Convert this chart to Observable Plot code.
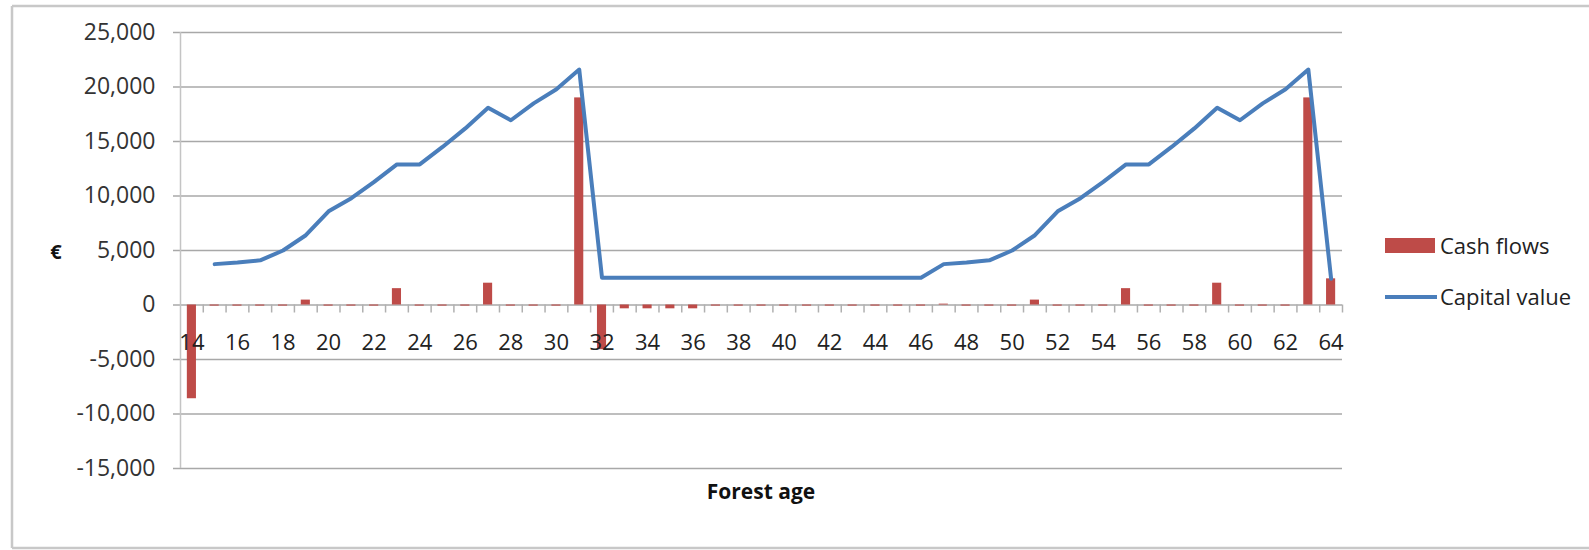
<!DOCTYPE html>
<html>
<head>
<meta charset="utf-8">
<script src="https://cdn.jsdelivr.net/npm/d3@7"></script>
<script src="https://cdn.jsdelivr.net/npm/@observablehq/plot@0.6"></script>
<style>
  html, body { margin: 0; padding: 0; background: #fff; overflow: hidden; }
  #chart { position: relative; width: 1589px; height: 550px; overflow: hidden; }
</style>
</head>
<body>
<div id="chart"></div>
<script>
// Forest age categories
const ages = [14,15,16,17,18,19,20,21,22,23,24,25,26,27,28,29,30,31,32,33,34,35,36,37,38,39,40,41,42,43,44,45,46,47,48,49,50,51,52,53,54,55,56,57,58,59,60,61,62,63,64];
// Cash flows (€)
const cashFlows = [-8600,-100,-100,-100,-100,450,-100,-100,-100,1500,-100,-100,-100,2000,-100,-100,-100,19000,-4100,-350,-350,-350,-350,-100,-100,-100,-100,-100,-100,-100,-100,-100,-100,80,-100,-100,-100,450,-100,-100,-100,1500,-100,-100,-100,2000,-100,-100,-100,19000,2400];
// Capital value (€)
const capitalValue = [null,3750,3900,4100,5000,6400,8600,9800,11300,12900,12900,14500,16200,18100,16950,18500,19800,21600,2500,2500,2500,2500,2500,2500,2500,2500,2500,2500,2500,2500,2500,2500,2500,3750,3900,4100,5000,6400,8600,9800,11300,12900,12900,14500,16200,18100,16950,18500,19800,21600,2400];
// Axis ticks
const yTicks = [-15000,-10000,-5000,0,5000,10000,15000,20000,25000];
const xTickLabels = [14,16,18,20,22,24,26,28,30,32,34,36,38,40,42,44,46,48,50,52,54,56,58,60,62,64];

const barColor = "#BE4B48";
const lineColor = "#4A7EBB";
const gridColor = "#a8a8a8";

const data = ages.map((a, i) => ({age: a, cash: cashFlows[i], capital: capitalValue[i]}));
const xBounds = ages.map(a => a + 0.5);
const fmt = d => d3.format(",")(d).replace("\u2212", "-");

const W = 1589, H = 550;
const plot = Plot.plot({
  width: W,
  height: H,
  marginLeft: 180,
  marginRight: 247,
  marginTop: 32,
  marginBottom: 82,
  style: {fontFamily: "'Open Sans', sans-serif", fontSize: "23px", color: "#333", background: "transparent"},
  x: {domain: [13.5, 64.5], axis: null},
  y: {domain: [-15000, 25000], ticks: yTicks, tickFormat: fmt, tickSize: 0, tickPadding: 25, label: null},
  marks: [
    Plot.ruleY(yTicks, {stroke: gridColor, strokeWidth: 1.5, insetLeft: -7}),
    Plot.ruleX([13.5], {stroke: "#c4c4c4", strokeWidth: 1.5}),
    Plot.ruleX(xBounds, {y1: 0, y2: 0, insetBottom: -8, stroke: "#b0b0b0", strokeWidth: 1.5}),
    Plot.rect(data, {x1: d => d.age - 0.2, x2: d => d.age + 0.2, y1: 0, y2: "cash", fill: barColor}),
    Plot.line(data.filter(d => d.capital != null), {x: "age", y: "capital", stroke: lineColor, strokeWidth: 4, strokeLinejoin: "round"}),
    Plot.text(xTickLabels, {x: d => d, y: 0, dy: 38, text: d => String(d), fill: "#222", fontSize: 22})
  ]
});

const svg = d3.select(plot);
// outer chart border (top, left, bottom)
const border = svg.insert("g", ":first-child").attr("stroke", "#c8c8c8").attr("stroke-width", 2.5);
border.append("line").attr("x1", 12).attr("x2", W).attr("y1", 6).attr("y2", 6);
border.append("line").attr("x1", 12).attr("x2", 12).attr("y1", 6).attr("y2", 548);
border.append("line").attr("x1", 12).attr("x2", W).attr("y1", 548).attr("y2", 548);

// axis titles
svg.append("text").attr("x", 56).attr("y", 252).attr("dy", "0.35em")
  .attr("text-anchor", "middle").attr("font-weight", "bold").attr("font-size", 20).attr("fill", "#111")
  .text("€");
svg.append("text").attr("x", 761).attr("y", 492).attr("dy", "0.35em")
  .attr("text-anchor", "middle").attr("font-weight", "bold").attr("font-size", 21).attr("fill", "#111")
  .text("Forest age");

// legend
const lg = svg.append("g").attr("font-size", 22).attr("fill", "#222").attr("text-anchor", "start");
lg.append("rect").attr("x", 1385).attr("y", 238).attr("width", 50).attr("height", 15).attr("fill", barColor);
lg.append("text").attr("x", 1440).attr("y", 246).attr("dy", "0.35em").attr("text-anchor", "start").text("Cash flows");
lg.append("line").attr("x1", 1385).attr("x2", 1437).attr("y1", 297).attr("y2", 297)
  .attr("stroke", lineColor).attr("stroke-width", 4);
lg.append("text").attr("x", 1440).attr("y", 297).attr("dy", "0.35em").attr("text-anchor", "start").text("Capital value");

document.getElementById("chart").appendChild(plot);
</script>
</body>
</html>
